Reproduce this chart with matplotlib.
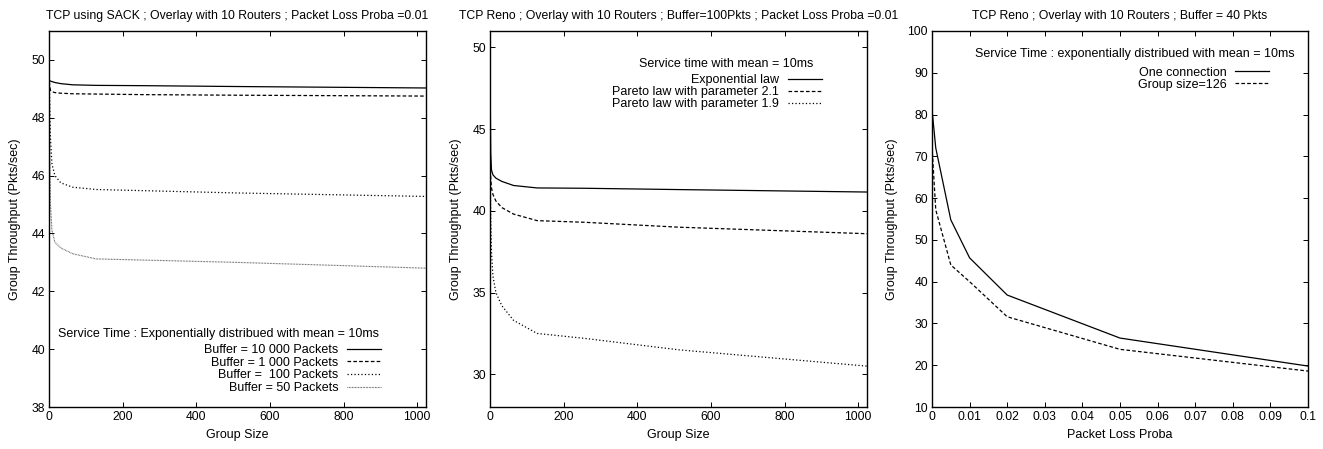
import matplotlib
matplotlib.use("Agg")
import matplotlib.pyplot as plt
import numpy as np

plt.rcParams['font.family'] = ['Liberation Sans', 'DejaVu Sans']
plt.rcParams['font.size'] = 9
plt.rcParams['lines.scale_dashes'] = False

# Panel 1 : TCP SACK, group throughput vs group size, by buffer size
group_sizes = [1, 2, 4, 8, 16, 32, 64, 128, 256, 512, 1024]
sack_buf_10000 = [49.28, 49.28, 49.27, 49.25, 49.22, 49.18, 49.14, 49.12, 49.11, 49.08, 49.03]
sack_buf_1000 = [49.25, 49.10, 48.95, 48.90, 48.87, 48.85, 48.83, 48.82, 48.80, 48.78, 48.75]
sack_buf_100 = [49.20, 48.50, 47.30, 46.40, 46.00, 45.75, 45.60, 45.52, 45.48, 45.40, 45.28]
sack_buf_50 = [49.20, 47.00, 45.00, 44.10, 43.70, 43.50, 43.30, 43.12, 43.08, 43.00, 42.80]

# Panel 2 : TCP Reno, service time laws
reno_expo = [46.0, 43.5, 42.5, 42.2, 42.0, 41.8, 41.55, 41.4, 41.38, 41.3, 41.15]
reno_pareto21 = [42.5, 42.0, 41.4, 41.0, 40.6, 40.2, 39.8, 39.4, 39.3, 39.0, 38.6]
reno_pareto19 = [41.5, 39.5, 37.5, 36.0, 35.0, 34.2, 33.3, 32.5, 32.2, 31.5, 30.5]

# Panel 3 : TCP Reno, throughput vs packet loss probability
loss_proba = [0, 0.001, 0.005, 0.01, 0.02, 0.05, 0.1]
one_connection = [81.2, 72.0, 54.8, 45.7, 36.8, 26.5, 19.8]
group_126 = [72.3, 57.2, 44.0, 40.0, 31.6, 23.8, 18.6]

solid = dict(color='black', lw=0.9, ls='-')
dashed = dict(color='black', lw=0.9, dashes=(2.6, 1.6))
dotted = dict(color='black', lw=0.9, dashes=(0.9, 1.6))
fine = dict(color='#444444', lw=0.8, dashes=(0.5, 0.6))

W, H = 1323, 449
fig = plt.figure(figsize=(W / 100, H / 100), dpi=100)

def make_axes(left, right, top=31, bottom=407):
    ax = fig.add_axes([left / W, (H - bottom) / H, (right - left) / W, (bottom - top) / H])
    for s in ax.spines.values():
        s.set_linewidth(1.0)
    ax.tick_params(direction='in', top=True, right=True, length=3.5, width=0.7, pad=3, labelsize=8.7)
    ax.set_ylabel("Group Throughput (Pkts/sec)", labelpad=7)
    return ax

def key(ax, anchor, spacing=0.0):
    leg = ax.legend(loc='upper right', bbox_to_anchor=anchor, frameon=False, markerfirst=False,
                    handlelength=2.7, handletextpad=0.7, borderpad=0, borderaxespad=0,
                    labelspacing=spacing)
    return leg

# panel 1
ax1 = make_axes(49, 426)
ax1.plot(group_sizes, sack_buf_10000, label="Buffer = 10 000 Packets", **solid)
ax1.plot(group_sizes, sack_buf_1000, label="Buffer = 1 000 Packets", **dashed)
ax1.plot(group_sizes, sack_buf_100, label="Buffer =  100 Packets", **dotted)
ax1.plot(group_sizes, sack_buf_50, label="Buffer = 50 Packets", **fine)
ax1.set_xlim(0, 1024)
ax1.set_ylim(38, 51)
ax1.set_xticks(np.arange(0, 1001, 200))
ax1.set_yticks(np.arange(38, 51, 2))
ax1.set_xlabel("Group Size")
ax1.set_title("TCP using SACK ; Overlay with 10 Routers ; Packet Loss Proba =0.01", pad=9, fontsize=8.8)
ax1.text(0.875, 0.194, "Service Time : Exponentially distribued with mean = 10ms",
         transform=ax1.transAxes, ha='right', va='center')
key(ax1, (0.88, 0.167), 0.05)

# panel 2
ax2 = make_axes(490, 867)
ax2.plot(group_sizes, reno_expo, label="Exponential law", **solid)
ax2.plot(group_sizes, reno_pareto21, label="Pareto law with parameter 2.1", **dashed)
ax2.plot(group_sizes, reno_pareto19, label="Pareto law with parameter 1.9", **dotted)
ax2.set_xlim(0, 1024)
ax2.set_ylim(28, 51)
ax2.set_xticks(np.arange(0, 1001, 200))
ax2.set_yticks(np.arange(30, 51, 5))
ax2.set_xlabel("Group Size")
ax2.set_title("TCP Reno ; Overlay with 10 Routers ; Buffer=100Pkts ; Packet Loss Proba =0.01", pad=9, fontsize=8.8)
ax2.text(0.857, 0.913, "Service time with mean = 10ms", transform=ax2.transAxes, ha='right', va='center')
key(ax2, (0.88, 0.885))

# panel 3
ax3 = make_axes(932, 1308)
ax3.plot(loss_proba, one_connection, label="One connection", **solid)
ax3.plot(loss_proba, group_126, label="Group size=126", **dashed)
ax3.set_xlim(0, 0.1)
ax3.set_ylim(10, 100)
ax3.set_xticks(np.arange(0, 0.1001, 0.01))
ax3.set_xticklabels(["0", "0.01", "0.02", "0.03", "0.04", "0.05", "0.06", "0.07", "0.08", "0.09", "0.1"])
ax3.set_yticks(np.arange(10, 101, 10))
ax3.set_xlabel("Packet Loss Proba")
ax3.set_title("TCP Reno ; Overlay with 10 Routers ; Buffer = 40 Pkts", pad=9, fontsize=8.8)
ax3.text(0.965, 0.939, "Service Time : exponentially distribued with mean = 10ms",
         transform=ax3.transAxes, ha='right', va='center')
key(ax3, (0.896, 0.905))

fig.savefig("out.png", dpi=100)
